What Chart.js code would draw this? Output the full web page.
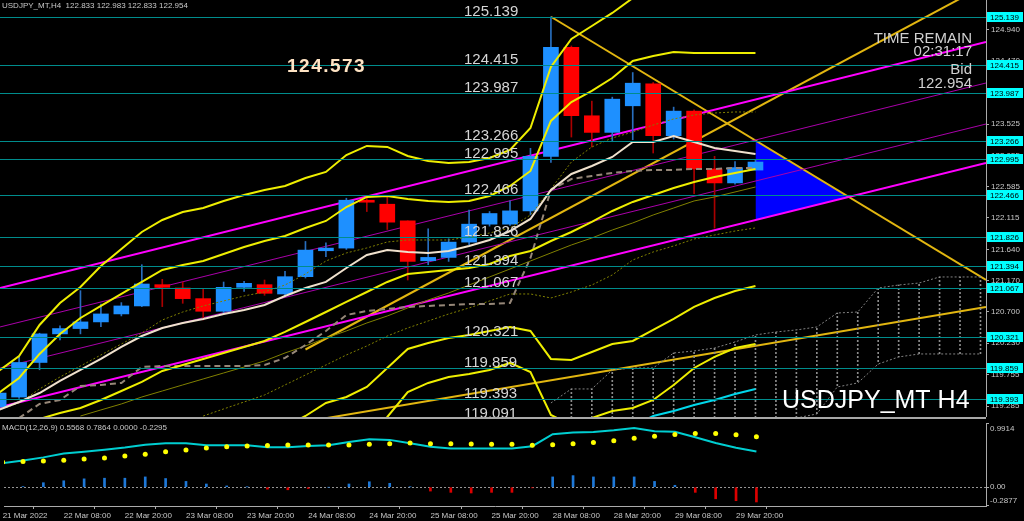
<!DOCTYPE html>
<html>
<head>
<meta charset="utf-8">
<script src="https://cdn.jsdelivr.net/npm/chart.js@4.4.1/dist/chart.umd.min.js"></script>
<style>
html, body { margin: 0; padding: 0; background: #000; width: 1024px; height: 521px; overflow: hidden; }
#main { position: absolute; left: 0; top: 0; }
#sep { position: absolute; left: 0; top: 417px; width: 986px; height: 2px; background: #a8a8a8; }
#sub { position: absolute; left: 0; top: 419px; }
</style>
</head>
<body>
<canvas id="main" width="1024" height="417"></canvas>
<div id="sep"></div>
<canvas id="sub" width="1024" height="102"></canvas>
<script>
// USDJPY H4 candles, bar index 0 = 21 Mar 20:00
const opens  = [119.27,119.42,119.94,120.37,120.45,120.55,120.67,120.79,121.11,121.06,120.90,120.71,121.07,121.11,120.97,121.23,121.62,121.66,122.38,122.32,122.07,121.47,121.52,121.75,122.02,122.02,122.22,123.04,124.68,123.65,123.40,123.80,124.13,123.35,123.72,122.85,122.64,122.833];
const highs  = [119.55,120.02,120.38,120.49,121.02,120.82,120.84,121.41,121.19,121.15,121.05,121.15,121.16,121.18,121.31,121.76,121.74,122.41,122.43,122.43,122.07,121.95,121.80,122.23,122.21,122.37,123.16,125.139,124.70,123.87,123.93,124.30,124.15,123.78,123.74,123.04,122.96,122.983];
const lows   = [119.20,119.40,119.83,120.28,120.37,120.48,120.64,120.78,120.78,120.83,120.58,120.67,121.01,120.95,120.94,121.21,121.53,121.64,122.21,121.94,121.18,121.41,121.46,121.71,121.99,122.00,122.16,122.95,123.33,123.18,123.26,123.29,123.09,123.30,122.48,121.96,122.62,122.833];
const closes = [119.48,119.94,120.37,120.45,120.55,120.67,120.79,121.12,121.07,120.90,120.71,121.07,121.13,120.98,121.23,121.63,121.66,122.38,122.35,122.05,121.46,121.52,121.75,122.02,122.18,122.22,123.04,124.68,123.65,123.40,123.90,124.14,123.35,123.72,122.85,122.64,122.87,122.954];

const timeTickIdx = [0,3,6,9,12,15,18,21,24,27,30,33,36];
const timeTickLabels = ['21 Mar 2022','22 Mar 08:00','22 Mar 20:00','23 Mar 08:00','23 Mar 20:00','24 Mar 08:00','24 Mar 20:00','25 Mar 08:00','25 Mar 20:00','28 Mar 08:00','28 Mar 20:00','29 Mar 08:00','29 Mar 20:00'];
const priceTicks = [124.940,124.470,124.000,123.525,123.055,122.585,122.115,121.640,121.170,120.700,120.230,119.755,119.285];
const levels = [125.139,124.415,123.987,123.266,122.995,122.466,121.826,121.394,121.067,120.321,119.859,119.393,119.091];

// bollinger style bands (start at bar 0 unless noted)
const bandUpper3 = [119.812,120.038,120.504,120.835,121.075,121.391,121.647,121.902,122.083,122.203,122.263,122.369,122.459,122.534,122.594,122.714,122.805,123.060,123.196,123.181,123.045,122.970,122.940,122.955,123.015,123.135,123.466,124.384,124.805,125.000,125.196,125.42,125.49,125.48,125.46,125.45,125.44,125.50];
const bandUpper2 = [119.481,119.707,120.068,120.369,120.609,120.790,120.970,121.151,121.331,121.406,121.466,121.572,121.677,121.767,121.842,121.963,122.068,122.278,122.429,122.444,122.399,122.369,122.354,122.369,122.444,122.594,122.820,123.572,123.857,124.023,124.218,124.474,124.549,124.609,124.594,124.594,124.594,124.594];
const bandMid = [118.99,119.04,119.090,119.181,119.256,119.376,119.511,119.647,119.812,119.902,119.993,120.083,120.173,120.263,120.399,120.549,120.699,120.850,121.000,121.151,121.271,121.301,121.331,121.361,121.421,121.542,121.617,121.767,121.902,122.053,122.218,122.354,122.459,122.564,122.654,122.729,122.790,122.850];
const bandLower2Start = 14;
const bandLower2 = [118.98,119.135,119.331,119.421,119.572,119.857,120.143,120.233,120.308,120.354,120.414,120.474,120.414,119.993,119.978,120.098,120.218,120.263,120.429,120.594,120.775,120.910,121.015,121.090];
const bandLower3Start = 18;
const bandLower3 = [118.80,119.120,119.496,119.632,119.722,119.767,119.827,119.933,119.797,119.151,119.000,119.105,119.211,119.256,119.376,119.602,119.857,120.023,120.158,120.218];

const oliveSolidStart = 4;
const oliveSolid = [119.135,119.226,119.316,119.421,119.511,119.602,119.692,119.782,119.872,119.963,120.083,120.188,120.308,120.414,120.534,120.639,120.760,120.880,120.985,121.105,121.226,121.346,121.466,121.587,121.707,121.812,121.932,122.038,122.158,122.263,122.369,122.429,122.504,122.579];
const oliveDotLowStart = 10;
const oliveDotLow = [119.135,119.241,119.346,119.451,119.602,119.752,119.902,120.053,120.188,120.338,120.459,120.564,120.669,120.760,120.865,120.970,120.970,120.910,121.000,121.105,121.256,121.481,121.602,121.692,121.797,121.857,121.917,121.963];
const oliveDotHigh = [119.226,119.331,119.542,119.722,119.887,120.053,120.218,120.384,120.579,120.699,120.790,120.865,120.940,121.000,121.105,121.271,121.466,121.587,121.662,121.752,121.782,121.782,121.782,121.827,121.887,121.963,122.158,122.549,122.955,123.181,123.316,123.406,123.511,123.602,123.662,123.692,123.707,123.707];
const whiteLine = [119.226,119.346,119.481,119.662,119.827,119.993,120.173,120.338,120.459,120.534,120.594,120.669,120.729,120.805,120.940,121.060,121.151,121.361,121.557,121.632,121.602,121.587,121.617,121.692,121.782,121.917,122.098,122.534,122.775,122.895,123.030,123.256,123.256,123.346,123.256,123.166,123.120,123.075];
const kijunStart = 1;
const kijun = [119.105,119.316,119.376,119.587,119.602,119.632,119.872,119.887,119.887,119.887,119.887,119.887,119.902,120.008,120.203,120.414,120.654,120.714,120.745,120.775,120.790,120.805,120.820,120.820,120.835,121.511,122.534,122.699,122.745,122.790,122.820,122.835,122.835,122.850,122.850,122.865,122.865];
const cyanStart = 31;
const cyanLine = [118.98,119.135,119.211,119.301,119.376,119.466,119.542];

// cloud shifted forward, bars 27..48
const cloudStart = 27;
const cloudTop = [119.331,119.542,119.542,119.827,119.857,119.857,120.083,120.113,120.158,120.248,120.354,120.399,120.429,120.474,120.684,120.699,121.060,121.105,121.135,121.226,121.226,121.226];
const cloudBottom = [118.90,118.90,118.90,118.90,118.90,118.90,118.90,118.90,118.90,118.90,118.90,118.95,119.105,119.166,119.572,119.632,119.917,120.023,120.068,120.068,120.068,120.068];

// trend lines [bar, price]
const channelHi = [[0.07,121.060],[48.27,124.760]];
const channelLo = [[0.07,119.271],[48.27,122.940]];
const channelMid1 = [[0.07,120.474],[48.27,124.143]];
const channelMid2 = [[0.07,119.857],[48.27,123.526]];
const goldDown = [[27,125.139],[48.27,121.18]];
const goldUp = [[15,120.135],[48.27,125.62]];
const goldLow = [[15,119.05],[48.27,120.775]];
const triX = [37,41.56];
const triTop = [123.278,122.429];
const triBottom = [122.082,122.429];

// MACD(12,26,9)
const macdMain = [0.375,0.415,0.464,0.524,0.553,0.583,0.617,0.662,0.682,0.682,0.653,0.653,0.653,0.623,0.623,0.642,0.653,0.702,0.746,0.736,0.682,0.628,0.602,0.602,0.602,0.602,0.638,0.825,0.850,0.858,0.884,0.920,0.872,0.861,0.776,0.687,0.613,0.5568];
const macdSignal = [0.390,0.401,0.409,0.420,0.439,0.454,0.484,0.513,0.553,0.579,0.608,0.628,0.642,0.647,0.657,0.657,0.657,0.657,0.668,0.677,0.687,0.677,0.677,0.672,0.668,0.668,0.653,0.662,0.677,0.697,0.721,0.761,0.791,0.820,0.835,0.835,0.816,0.7864];
const macdHist = [0,0.01,0.07,0.10,0.13,0.14,0.14,0.16,0.135,0.09,0.05,0.02,0.005,-0.03,-0.04,-0.02,0,0.05,0.085,0.06,0.005,-0.06,-0.08,-0.09,-0.08,-0.08,-0.01,0.16,0.18,0.16,0.16,0.16,0.09,0.03,-0.08,-0.18,-0.21,-0.2295];
const macdTicks = [0.9914, 0, -0.2877];
const macdTickLabels = ['0.9914', '0.00', '-0.2877'];

const X_MIN = 0.067, X_MAX = 48.27;
const FONT = '"Liberation Sans", Arial, sans-serif';
const BULL = 'rgb(30,144,255)', BEAR = 'rgb(255,0,0)';
const GOLD = 'rgb(226,182,16)', YEL = 'rgb(238,238,0)', OLIVE = 'rgb(128,128,0)';

Chart.defaults.animation = false;
Chart.defaults.font.family = FONT;

const series = (vals, start) => vals.map((v, k) => ({ x: (start || 0) + k, y: v }));
const pairs = arr => arr.map(p => ({ x: p[0], y: p[1] }));
function lineDs(data, color, width, dash, order) {
  return { type: 'line', data, borderColor: color, borderWidth: width, borderDash: dash || [],
           pointRadius: 0, fill: false, tension: 0, order: order };
}

// dotted vertical hatch for the cloud
const pc = document.createElement('canvas');
pc.width = 1; pc.height = 4;
const pctx = pc.getContext('2d');
pctx.fillStyle = 'rgb(140,140,140)';
pctx.fillRect(0, 0, 1, 2);
const hatch = pctx.createPattern(pc, 'repeat');

const mainOverlay = {
  id: 'mainOverlay',
  afterDatasetsDraw(chart) {
    const { ctx, chartArea: a, scales: { y } } = chart;
    ctx.save();
    ctx.beginPath();
    ctx.rect(a.left, a.top, a.right - a.left, a.bottom - a.top);
    ctx.clip();
    ctx.strokeStyle = 'rgb(0,140,140)';
    ctx.lineWidth = 1;
    ctx.font = '15px ' + FONT;
    ctx.fillStyle = '#d6d6d6';
    ctx.textAlign = 'left';
    ctx.textBaseline = 'alphabetic';
    levels.forEach(v => {
      const py = Math.round(y.getPixelForValue(v)) + 0.5;
      ctx.beginPath();
      ctx.moveTo(a.left, py);
      ctx.lineTo(a.right, py);
      ctx.stroke();
      ctx.fillText(v.toFixed(3), 464, py - 2);
    });
    ctx.restore();
  },
  afterDraw(chart) {
    const { ctx, chartArea: a, scales: { y } } = chart;
    ctx.save();
    // level boxes on the price axis
    ctx.font = '8px ' + FONT;
    ctx.textBaseline = 'middle';
    levels.forEach(v => {
      const py = Math.round(y.getPixelForValue(v));
      if (py < a.top || py > a.bottom - 4) return;
      ctx.fillStyle = 'rgb(0,255,255)';
      ctx.fillRect(a.right + 1, py - 5, 36, 10);
      ctx.fillStyle = '#000';
      ctx.fillText(v.toFixed(3), a.right + 4, py + 0.5);
    });
    ctx.textBaseline = 'alphabetic';
    // header
    ctx.fillStyle = '#c8c8c8';
    ctx.font = '8px ' + FONT;
    ctx.textAlign = 'left';
    ctx.fillText('USDJPY_MT,H4  122.833 122.983 122.833 122.954', 2, 8);
    // price tag
    ctx.font = 'bold 19px ' + FONT;
    ctx.fillStyle = 'rgb(255,228,196)';
    if ('letterSpacing' in ctx) ctx.letterSpacing = '1.5px';
    ctx.fillText('124.573', 287, 72);
    if ('letterSpacing' in ctx) ctx.letterSpacing = '0px';
    // timer block
    ctx.textAlign = 'right';
    ctx.fillStyle = '#d0d0d0';
    ctx.font = '15px "Liberation Sans Narrow", ' + FONT;
    ctx.fillText('TIME REMAIN', 972, 43);
    ctx.font = '15px ' + FONT;
    ctx.fillText('02:31:17', 972, 56);
    ctx.fillText('Bid', 972, 74);
    ctx.fillText('122.954', 972, 88);
    // symbol watermark
    ctx.textAlign = 'left';
    ctx.fillStyle = '#ffffff';
    ctx.font = '25px ' + FONT;
    ctx.fillText('USDJPY_MT H4', 782, 408);
    ctx.restore();
  }
};

new Chart(document.getElementById('main'), {
  type: 'bar',
  data: {
    datasets: [
      lineDs(series(bandUpper3), YEL, 2, [], 1),
      lineDs(series(bandUpper2), YEL, 2, [], 1),
      lineDs(series(bandMid), YEL, 2, [], 1),
      lineDs(series(bandLower2, bandLower2Start), YEL, 2, [], 1),
      lineDs(series(bandLower3, bandLower3Start), YEL, 2, [], 1),
      lineDs(series(whiteLine), 'rgb(240,225,205)', 2, [], 2),
      lineDs(series(kijun, kijunStart), 'rgb(150,135,120)', 2, [6, 4], 2),
      lineDs(series(oliveSolid, oliveSolidStart), OLIVE, 1, [], 2),
      lineDs(series(oliveDotLow, oliveDotLowStart), OLIVE, 1, [2, 2], 2),
      lineDs(series(oliveDotHigh), OLIVE, 1, [2, 2], 2),
      lineDs(series(cyanLine, cyanStart), 'rgb(0,215,235)', 2, [], 2),
      {
        type: 'bar', order: 4, grouped: false, barThickness: 15, minBarLength: 1, borderWidth: 0,
        data: opens.map((o, i) => ({ x: i, y: [o, closes[i]] })),
        backgroundColor: c => closes[c.dataIndex] >= opens[c.dataIndex] ? BULL : BEAR
      },
      {
        type: 'bar', order: 5, grouped: false, barThickness: 1, borderWidth: 0,
        data: lows.map((l, i) => ({ x: i, y: [l, highs[i]] })),
        backgroundColor: c => closes[c.dataIndex] >= opens[c.dataIndex] ? 'rgb(40,110,190)' : 'rgb(170,0,0)'
      },
      {
        type: 'bar', order: 8, grouped: false, barThickness: 1, borderWidth: 0,
        data: cloudTop.map((t, k) => ({ x: cloudStart + k, y: [cloudBottom[k], t] })).slice(1),
        backgroundColor: hatch
      },
      lineDs(series(cloudTop, cloudStart), 'rgb(130,130,130)', 1, [2, 2], 8),
      lineDs(series(cloudBottom, cloudStart), 'rgb(130,130,130)', 1, [2, 2], 8),
      lineDs(pairs(channelHi), 'rgb(255,0,255)', 2, [], 9),
      lineDs(pairs(channelLo), 'rgb(255,0,255)', 2, [], 9),
      lineDs(pairs(channelMid1), 'rgb(170,0,170)', 1, [], 9),
      lineDs(pairs(channelMid2), 'rgb(170,0,170)', 1, [], 9),
      lineDs(pairs(goldDown), GOLD, 2, [], 9),
      lineDs(pairs(goldUp), GOLD, 2, [], 9),
      lineDs(pairs(goldLow), GOLD, 2, [], 9),
      { type: 'line', order: 10, data: triX.map((x, k) => ({ x, y: triTop[k] })),
        borderWidth: 0, pointRadius: 0, fill: '+1', backgroundColor: 'rgb(0,0,255)' },
      { type: 'line', order: 10, data: triX.map((x, k) => ({ x, y: triBottom[k] })),
        borderWidth: 0, pointRadius: 0, fill: false }
    ]
  },
  options: {
    responsive: false,
    devicePixelRatio: 1,
    layout: { padding: 0 },
    plugins: { legend: { display: false }, tooltip: { enabled: false } },
    scales: {
      x: { type: 'linear', min: X_MIN, max: X_MAX, display: false, offset: false },
      y: {
        type: 'linear', position: 'right', min: 119.12, max: 125.391,
        afterFit: s => { s.width = 38; s.paddingTop = 0; s.paddingBottom = 0; },
        afterBuildTicks: s => { s.ticks = priceTicks.map(v => ({ value: v })); },
        ticks: { color: '#c8c8c8', font: { size: 8 }, padding: 2, autoSkip: false,
                 callback: v => Number(v).toFixed(3) },
        grid: { drawOnChartArea: false, drawTicks: true, tickLength: 3, color: '#aaaaaa' },
        border: { display: true, color: '#aaaaaa' }
      }
    }
  },
  plugins: [mainOverlay]
});

const subOverlay = {
  id: 'subOverlay',
  beforeDatasetsDraw(chart) {
    const { ctx, chartArea: a, scales: { y } } = chart;
    const py = Math.round(y.getPixelForValue(0)) + 0.5;
    ctx.save();
    ctx.strokeStyle = 'rgb(150,150,150)';
    ctx.setLineDash([2, 2]);
    ctx.lineWidth = 1;
    ctx.beginPath();
    ctx.moveTo(a.left, py);
    ctx.lineTo(a.right, py);
    ctx.stroke();
    ctx.restore();
  },
  afterDraw(chart) {
    const { ctx, chartArea: a, scales: { y } } = chart;
    ctx.save();
    ctx.font = '8px ' + FONT;
    ctx.fillStyle = '#c8c8c8';
    ctx.textAlign = 'left';
    ctx.fillText('MACD(12,26,9) 0.5568 0.7864 0.0000 -0.2295', 2, 11);
    ctx.textBaseline = 'middle';
    macdTicks.forEach((v, k) => {
      const py = Math.min(Math.max(y.getPixelForValue(v), a.top + 6), a.bottom - 5);
      ctx.fillText(macdTickLabels[k], a.right + 4, py);
    });
    ctx.restore();
  }
};

new Chart(document.getElementById('sub'), {
  type: 'bar',
  data: {
    datasets: [
      { type: 'line', order: 1, data: series(macdSignal), showLine: false, pointRadius: 2.5,
        pointBackgroundColor: 'rgb(255,255,0)', pointBorderWidth: 0 },
      lineDs(series(macdMain), 'rgb(0,206,209)', 2, [], 2),
      { type: 'bar', order: 3, grouped: false, barThickness: 2, borderWidth: 0,
        data: series(macdHist),
        backgroundColor: c => macdHist[c.dataIndex] >= 0 ? 'rgb(30,120,215)' : 'rgb(220,0,0)' }
    ]
  },
  options: {
    responsive: false,
    devicePixelRatio: 1,
    layout: { padding: 0 },
    plugins: { legend: { display: false }, tooltip: { enabled: false } },
    scales: {
      x: {
        type: 'linear', min: X_MIN, max: X_MAX, offset: false,
        afterFit: s => { s.height = 15; s.paddingLeft = 0; s.paddingRight = 0; },
        afterBuildTicks: s => { s.ticks = timeTickIdx.map(v => ({ value: v })); },
        ticks: { color: '#c8c8c8', font: { size: 8 }, padding: 2, autoSkip: false,
                 maxRotation: 0, minRotation: 0, align: 'start',
                 callback: (v, i) => timeTickLabels[i] },
        grid: { drawOnChartArea: false, drawTicks: true, tickLength: 3, color: '#aaaaaa' },
        border: { display: true, color: '#aaaaaa' }
      },
      y: {
        type: 'linear', position: 'right', min: -0.2923, max: 0.9985,
        afterFit: s => { s.width = 38; s.paddingTop = 0; s.paddingBottom = 0; },
        afterBuildTicks: s => { s.ticks = macdTicks.map(v => ({ value: v })); },
        ticks: { display: false },
        grid: { drawOnChartArea: false, drawTicks: true, tickLength: 3, color: '#aaaaaa' },
        border: { display: true, color: '#aaaaaa' }
      }
    }
  },
  plugins: [subOverlay]
});
</script>
</body>
</html>
